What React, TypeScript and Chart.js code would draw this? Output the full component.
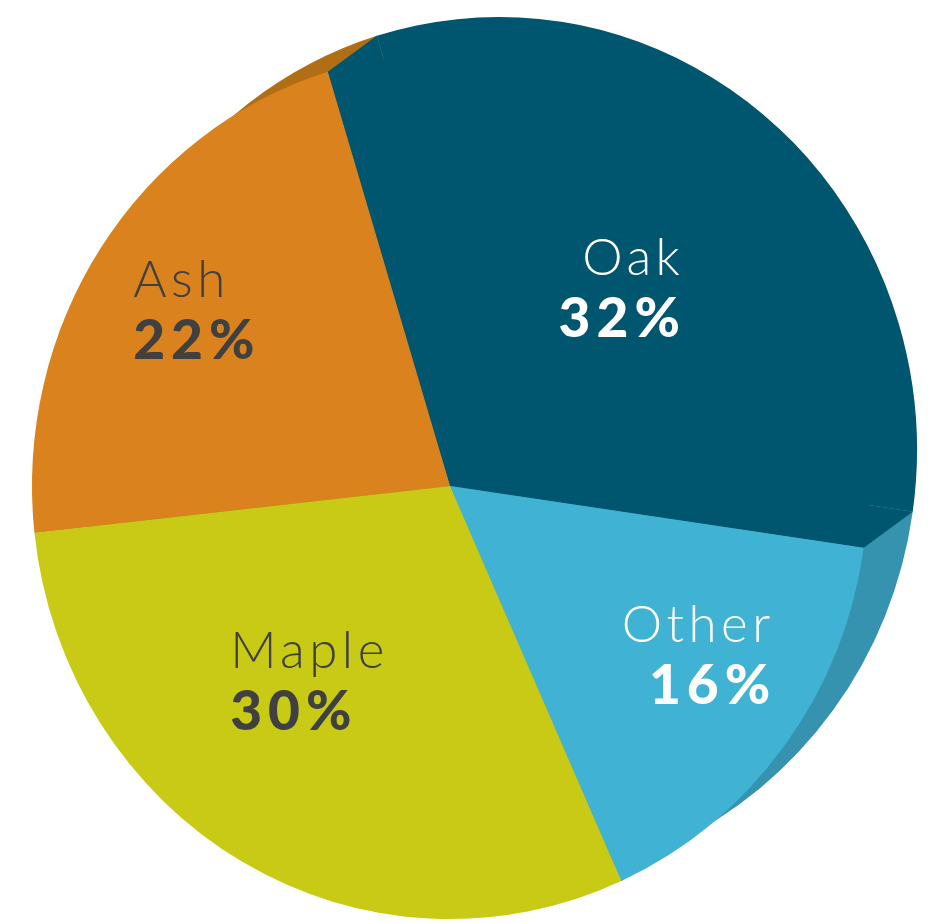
import React, { useEffect, useRef } from "react";
import { Chart, registerables } from "chart.js";

Chart.register(...registerables);

// ---- data ----
const categories = ["Oak", "Other", "Maple", "Ash"];
const shares = [32, 16, 30, 22];

// ---- styles ----
const faceColors = ["#00566E", "#40B2D3", "#C8CA16", "#D9821E"];
const sideColors = ["#00566E", "#3593B0", "#A5A712", "#B06F14"];
const textColors = ["#FFFFFF", "#FFFFFF", "#404040", "#404040"];
const labelLayout = [
  { dx: 0.55, dy: -0.505, align: "right" },
  { dx: 0.766, dy: 0.373, align: "right" },
  { dx: -0.526, dy: 0.435, align: "left" },
  { dx: -0.758, dy: -0.452, align: "left" },
];
const TILT_Y = 1.036;
const DEPTH_X = 49;
const DEPTH_Y = -36;
const NAME_FONT = "300 51px Lato, 'Open Sans', sans-serif";
const NAME_SPACING = 4.5;
const PCT_FONT = "900 55px Lato, 'Open Sans', sans-serif";
const PCT_SPACING = 6;
const LINE_GAP = 62 / 418;

const pie3d = {
  id: "pie3d",
  beforeDatasetsDraw(chart: any) {
    const arcs = chart.getDatasetMeta(0).data;
    const ctx = chart.ctx;
    ctx.save();
    if (!arcs.length) return;
    const { x: cx, y: cy } = arcs[0].getProps(["x", "y"], true);
    ctx.translate(cx, cy);
    ctx.scale(1, TILT_Y);
    ctx.translate(-cx, -cy);
    const ox = DEPTH_X;
    const oy = DEPTH_Y / TILT_Y;
    const order = arcs.map((_: any, i: number) => i).reverse();
    for (const i of order) {
      const p = arcs[i].getProps(["x", "y", "startAngle", "endAngle", "outerRadius"], true);
      ctx.fillStyle = sideColors[i];
      ctx.beginPath();
      ctx.moveTo(p.x + ox, p.y + oy);
      ctx.arc(p.x + ox, p.y + oy, p.outerRadius, p.startAngle, p.endAngle);
      ctx.closePath();
      ctx.fill();
      for (const ang of [p.startAngle, p.endAngle]) {
        const ex = p.x + p.outerRadius * Math.cos(ang);
        const ey = p.y + p.outerRadius * Math.sin(ang);
        ctx.beginPath();
        ctx.moveTo(p.x, p.y);
        ctx.lineTo(ex, ey);
        ctx.lineTo(ex + ox, ey + oy);
        ctx.lineTo(p.x + ox, p.y + oy);
        ctx.closePath();
        ctx.fill();
      }
    }
  },
  afterDatasetsDraw(chart: any) {
    const ctx = chart.ctx;
    ctx.restore();
    const arcs = chart.getDatasetMeta(0).data;
    if (!arcs.length) return;
    const { x: cx, y: cy, outerRadius: r } = arcs[0].getProps(["x", "y", "outerRadius"], true);
    ctx.save();
    ctx.textBaseline = "alphabetic";
    for (let i = 0; i < arcs.length; i++) {
      const L = labelLayout[i];
      const x = cx + L.dx * r;
      const y = cy + L.dy * r;
      const right = L.align === "right";
      ctx.textAlign = L.align;
      ctx.fillStyle = textColors[i];
      ctx.font = NAME_FONT;
      (ctx as any).letterSpacing = NAME_SPACING + "px";
      ctx.fillText(categories[i], right ? x + NAME_SPACING : x, y);
      ctx.font = PCT_FONT;
      (ctx as any).letterSpacing = PCT_SPACING + "px";
      ctx.fillText(shares[i] + "%", right ? x + PCT_SPACING : x, y + LINE_GAP * r);
    }
    ctx.restore();
  },
};

export default function App() {
  const canvasRef = useRef<HTMLCanvasElement | null>(null);
  useEffect(() => {
    if (!canvasRef.current) return;
    const chart = new Chart(canvasRef.current, {
      type: "pie",
      data: {
        labels: categories,
        datasets: [
          {
            data: shares,
            backgroundColor: faceColors,
            borderWidth: 0,
            hoverOffset: 0,
            clip: false,
          } as any,
        ],
      },
      options: {
        animation: false,
        responsive: true,
        maintainAspectRatio: false,
        rotation: -17,
        events: [],
        layout: { padding: { left: 32, right: 66, top: 68, bottom: 19 } },
        plugins: {
          legend: { display: false },
          tooltip: { enabled: false },
        },
      },
      plugins: [pie3d as any],
    });
    return () => chart.destroy();
  }, []);
  return (
    <div style={{ position: "absolute", left: 0, top: 0, width: 934, height: 923, background: "#FFFFFF" }}>
      <canvas ref={canvasRef} />
    </div>
  );
}
